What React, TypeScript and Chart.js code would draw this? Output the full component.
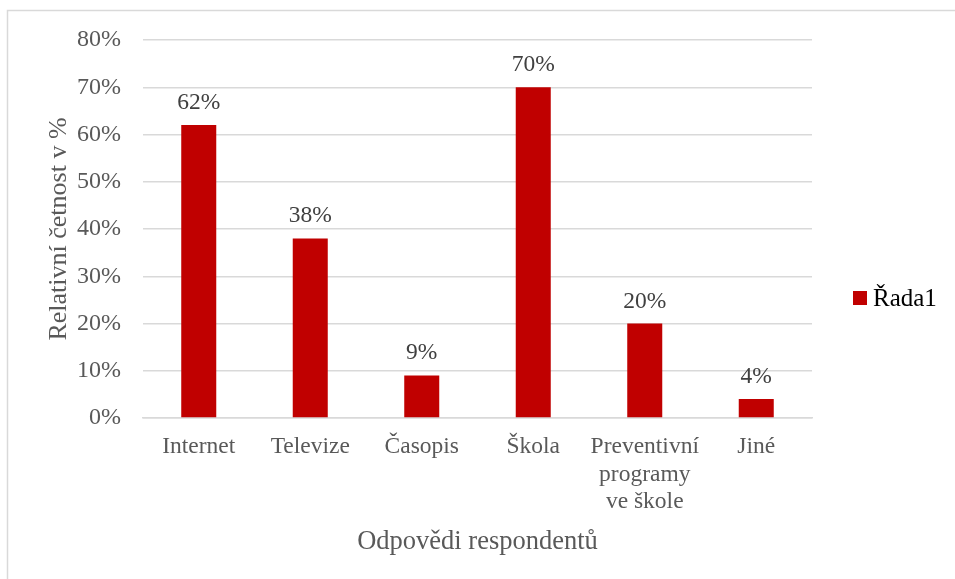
import React, { useEffect, useRef } from "react";
import { Chart, registerables } from "chart.js";

Chart.register(...registerables);

const categories: (string | string[])[] = [
  "Internet",
  "Televize",
  "Časopis",
  "Škola",
  ["Preventivní", "programy", "ve škole"],
  "Jiné",
];
const values: number[] = [62, 38, 9, 70, 20, 4];
const seriesName = "Řada1";
const yTitle = "Relativní četnost v %";
const xTitle = "Odpovědi respondentů";

const FONT = "'Liberation Serif', 'Times New Roman', serif";
const BAR = "#c00000";

const decor = {
  id: "decor",
  afterDraw(chart: any) {
    const ctx = chart.ctx;
    ctx.save();
    // outer border
    ctx.strokeStyle = "#d9d9d9";
    ctx.lineWidth = 1.5;
    ctx.strokeRect(7.5, 10.5, 1000, 1000);
    // data labels
    const meta = chart.getDatasetMeta(0);
    ctx.font = `23.5px ${FONT}`;
    ctx.fillStyle = "#404040";
    ctx.textAlign = "center";
    ctx.textBaseline = "alphabetic";
    meta.data.forEach((el: any, i: number) => {
      ctx.fillText(values[i] + "%", el.x, el.y - 16);
    });
    // legend
    const area = chart.chartArea;
    const cy = (area.top + area.bottom) / 2 + 69;
    ctx.fillStyle = BAR;
    ctx.fillRect(853, cy - 7, 14, 14);
    ctx.fillStyle = "#000000";
    ctx.font = `25px ${FONT}`;
    ctx.textAlign = "left";
    ctx.textBaseline = "middle";
    ctx.fillText(seriesName, 873, cy + 1);
    ctx.restore();
  },
};

export default function App() {
  const ref = useRef<HTMLCanvasElement>(null);
  useEffect(() => {
    document.body.style.margin = "0";
    const chart = new Chart(ref.current!, {
      type: "bar",
      data: {
        labels: categories,
        datasets: [
          {
            label: seriesName,
            data: values,
            backgroundColor: BAR,
            barPercentage: 0.314,
            categoryPercentage: 1,
          },
        ],
      },
      options: {
        animation: false,
        responsive: false,
        layout: { padding: { left: 0, right: 143, top: 40, bottom: 0 } },
        plugins: { legend: { display: false }, tooltip: { enabled: false } },
        scales: {
          x: {
            afterFit: (s: any) => {
              s.height = 161;
            },
            grid: { display: false, drawTicks: false },
            border: { display: true, color: "#d9d9d9", width: 1.5 },
            ticks: {
              color: "#595959",
              font: { family: FONT, size: 23.5, lineHeight: 1.18 },
              padding: 15,
              maxRotation: 0,
              autoSkip: false,
            },
            title: {
              display: true,
              text: xTitle,
              color: "#595959",
              font: { family: FONT, size: 26.5, lineHeight: 1.2 },
              padding: { top: 0, bottom: 21 },
            },
          },
          y: {
            min: 0,
            max: 80,
            afterFit: (s: any) => {
              s.width = 143;
            },
            grid: { color: "#d9d9d9", lineWidth: 1.5, drawTicks: false },
            border: { display: false },
            ticks: {
              stepSize: 10,
              color: "#595959",
              font: { family: FONT, size: 24 },
              padding: 22,
              callback: (v: any) => v + "%",
            },
            title: {
              display: true,
              text: yTitle,
              color: "#595959",
              font: { family: FONT, size: 26, lineHeight: 1.2 },
              padding: { top: 44, bottom: 0 },
            },
          },
        },
      },
      plugins: [decor],
    });
    return () => chart.destroy();
  }, []);
  return (
    <div style={{ width: 955, height: 579, background: "#fff" }}>
      <canvas ref={ref} width={955} height={579} />
    </div>
  );
}
